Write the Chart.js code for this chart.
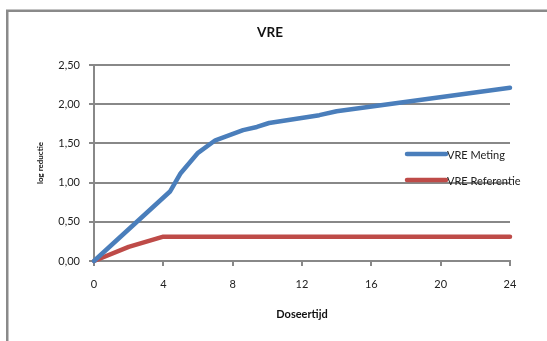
<!DOCTYPE html>
<html>
<head>
<meta charset="utf-8">
<script src="https://cdn.jsdelivr.net/npm/chart.js@4/dist/chart.umd.min.js"></script>
<style>
  html, body { margin: 0; padding: 0; background: #fff; }
  #wrap { position: relative; width: 547px; height: 341px; }
</style>
</head>
<body>
<div id="wrap"><canvas id="c" width="547" height="341"></canvas></div>
<script>
// Measured VRE (log reduction) against dosing time
const meetTijden = [0, 4.4, 5, 6, 7, 8.6, 9.4, 10.1, 13, 14, 24];
const vreMeting  = [0, 0.89, 1.12, 1.38, 1.54, 1.67, 1.71, 1.76, 1.86, 1.91, 2.21];

// Reference curve
const refTijden     = [0, 2, 4, 24];
const vreReferentie = [0, 0.18, 0.31, 0.31];

const xTicks = [0, 4, 8, 12, 16, 20, 24];
const yTicks = [0, 0.5, 1.0, 1.5, 2.0, 2.5];

const FONT = 'Lato, "Open Sans", sans-serif';
const GRID = '#888888';

const toPoints = (xs, ys) => xs.map((x, i) => ({ x, y: ys[i] }));

// Outer frame of the chart object (left and top edges visible)
const framePlugin = {
  id: 'frame',
  beforeDraw(chart) {
    const ctx = chart.ctx;
    ctx.save();
    ctx.fillStyle = '#fff';
    ctx.fillRect(0, 0, chart.width, chart.height);
    ctx.strokeStyle = '#8a8a8a';
    ctx.lineWidth = 2.5;
    ctx.strokeRect(7.25, 10.75, 700, 500);
    ctx.restore();
  }
};

// Legend drawn inside the plot area, right side
const innerLegend = {
  id: 'innerLegend',
  afterDraw(chart) {
    const ctx = chart.ctx;
    const a = chart.chartArea;
    const x0 = a.right - 103, x1 = a.right - 64;
    const rows = [a.top + 89, a.top + 115];
    ctx.save();
    chart.data.datasets.forEach((ds, i) => {
      const y = rows[i];
      ctx.strokeStyle = ds.borderColor;
      ctx.lineWidth = 4.5;
      ctx.lineCap = 'round';
      ctx.beginPath();
      ctx.moveTo(x0, y);
      ctx.lineTo(x1, y);
      ctx.stroke();
      ctx.fillStyle = '#222';
      ctx.font = '11px ' + FONT;
      ctx.textBaseline = 'middle';
      ctx.textAlign = 'left';
      ctx.fillText(ds.label, x1 + 1, y + 1);
    });
    ctx.restore();
  }
};

new Chart(document.getElementById('c'), {
  type: 'scatter',
  data: {
    datasets: [
      {
        label: 'VRE Meting',
        data: toPoints(meetTijden, vreMeting),
        showLine: true,
        borderColor: '#4A7EBB',
        backgroundColor: '#4A7EBB',
        borderWidth: 4.5,
        borderCapStyle: 'round',
        borderJoinStyle: 'round',
        pointRadius: 0,
        tension: 0
      },
      {
        label: 'VRE Referentie',
        data: toPoints(refTijden, vreReferentie),
        showLine: true,
        borderColor: '#BE4B48',
        backgroundColor: '#BE4B48',
        borderWidth: 4.5,
        borderCapStyle: 'round',
        borderJoinStyle: 'round',
        pointRadius: 0,
        tension: 0
      }
    ]
  },
  options: {
    responsive: false,
    animation: false,
    clip: false,
    layout: { padding: { left: 30, right: 37, top: 0, bottom: 0 } },
    plugins: {
      legend: { display: false },
      tooltip: { enabled: false },
      title: {
        display: true,
        text: 'VRE',
        color: '#111',
        font: { family: FONT, size: 13.5, weight: 'bold', lineHeight: 1.2 },
        padding: { top: 25, bottom: 23.8 }
      }
    },
    scales: {
      x: {
        type: 'linear',
        min: 0,
        max: 24,
        afterBuildTicks(s) { s.ticks = xTicks.map(v => ({ value: v })); },
        afterFit(s) { s.height = 80; },
        ticks: {
          color: '#222',
          font: { family: FONT, size: 11 },
          padding: 12,
          maxRotation: 0,
          callback: v => String(v)
        },
        grid: {
          drawOnChartArea: false,
          drawTicks: true,
          tickLength: 5,
          color: GRID,
          lineWidth: 2
        },
        border: { display: true, color: GRID, width: 2 },
        title: {
          display: true,
          text: 'Doseertijd',
          color: '#111',
          font: { family: FONT, size: 11, weight: 'bold', lineHeight: 1.2 },
          padding: { top: 0, bottom: 20 }
        }
      },
      y: {
        type: 'linear',
        min: 0,
        max: 2.5,
        afterBuildTicks(s) { s.ticks = yTicks.map(v => ({ value: v })); },
        afterFit(s) { s.width = 64; },
        ticks: {
          color: '#222',
          font: { family: FONT, size: 11 },
          padding: 9,
          callback: v => v.toFixed(2).replace('.', ',')
        },
        grid: {
          drawOnChartArea: true,
          drawTicks: true,
          tickLength: 5,
          color: GRID,
          lineWidth: 2
        },
        border: { display: true, color: GRID, width: 2 },
        title: {
          display: true,
          text: 'log reductie',
          color: '#111',
          font: { family: FONT, size: 8, weight: 'bold', lineHeight: 1.2 },
          padding: { top: 6, bottom: 0 }
        }
      }
    }
  },
  plugins: [framePlugin, innerLegend]
});
</script>
</body>
</html>
